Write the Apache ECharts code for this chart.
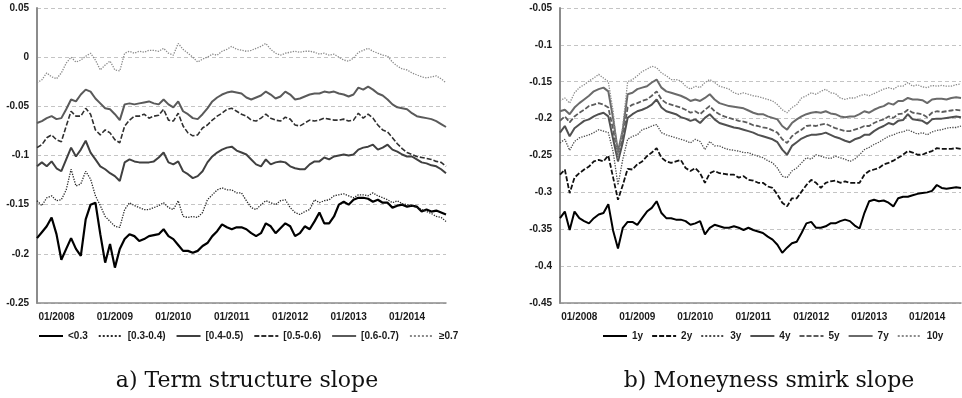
<!DOCTYPE html>
<html>
<head>
<meta charset="utf-8">
<script src="https://cdn.jsdelivr.net/npm/echarts@6/dist/echarts.min.js"></script>
<style>
  html, body { margin: 0; padding: 0; background: #fff; }
  #chart { width: 962px; height: 398px; }
</style>
</head>
<body>
<div id="chart"></div>
<script>
// monthly observations, 09/2007 .. 09/2014 (right panel stops at 08/2014)
const months = [
  '09/2007','10/2007','11/2007','12/2007',
  '01/2008','02/2008','03/2008','04/2008','05/2008','06/2008','07/2008','08/2008','09/2008','10/2008','11/2008','12/2008',
  '01/2009','02/2009','03/2009','04/2009','05/2009','06/2009','07/2009','08/2009','09/2009','10/2009','11/2009','12/2009',
  '01/2010','02/2010','03/2010','04/2010','05/2010','06/2010','07/2010','08/2010','09/2010','10/2010','11/2010','12/2010',
  '01/2011','02/2011','03/2011','04/2011','05/2011','06/2011','07/2011','08/2011','09/2011','10/2011','11/2011','12/2011',
  '01/2012','02/2012','03/2012','04/2012','05/2012','06/2012','07/2012','08/2012','09/2012','10/2012','11/2012','12/2012',
  '01/2013','02/2013','03/2013','04/2013','05/2013','06/2013','07/2013','08/2013','09/2013','10/2013','11/2013','12/2013',
  '01/2014','02/2014','03/2014','04/2014','05/2014','06/2014','07/2014','08/2014','09/2014'
];

// a) term structure slope, by moneyness bucket
const termNames = ['<0.3', '[0.3-0.4)', '[0.4-0.5)', '[0.5-0.6)', '[0.6-0.7)', '≥0.7'];
const termLt03 = [
  -0.184,-0.178,-0.172,-0.163,-0.180,-0.206,-0.195,-0.184,-0.195,-0.202,
  -0.165,-0.150,-0.148,-0.180,-0.209,-0.190,-0.214,-0.195,-0.185,-0.180,
  -0.182,-0.187,-0.185,-0.182,-0.181,-0.180,-0.175,-0.182,-0.185,-0.191,
  -0.197,-0.197,-0.199,-0.197,-0.192,-0.189,-0.182,-0.177,-0.170,-0.173,
  -0.175,-0.173,-0.173,-0.175,-0.179,-0.182,-0.179,-0.169,-0.172,-0.179,
  -0.174,-0.169,-0.172,-0.182,-0.179,-0.172,-0.175,-0.167,-0.158,-0.169,
  -0.169,-0.162,-0.150,-0.147,-0.150,-0.145,-0.143,-0.143,-0.144,-0.147,
  -0.145,-0.148,-0.148,-0.153,-0.151,-0.150,-0.152,-0.151,-0.152,-0.157,
  -0.155,-0.157,-0.156,-0.158,-0.160
];
const term0304 = [
  -0.146,-0.151,-0.143,-0.141,-0.146,-0.145,-0.135,-0.114,-0.131,-0.129,
  -0.116,-0.124,-0.141,-0.151,-0.162,-0.167,-0.172,-0.173,-0.155,-0.148,
  -0.151,-0.153,-0.155,-0.155,-0.153,-0.151,-0.148,-0.153,-0.155,-0.146,
  -0.162,-0.163,-0.162,-0.163,-0.158,-0.145,-0.140,-0.135,-0.133,-0.135,
  -0.135,-0.138,-0.138,-0.146,-0.153,-0.155,-0.150,-0.146,-0.148,-0.150,
  -0.146,-0.145,-0.153,-0.158,-0.160,-0.157,-0.155,-0.145,-0.148,-0.146,
  -0.145,-0.141,-0.140,-0.139,-0.141,-0.143,-0.140,-0.140,-0.141,-0.138,
  -0.141,-0.143,-0.145,-0.148,-0.146,-0.149,-0.150,-0.151,-0.153,-0.155,
  -0.157,-0.159,-0.162,-0.163,-0.167
];
const term0405 = [
  -0.111,-0.107,-0.111,-0.106,-0.113,-0.116,-0.104,-0.092,-0.101,-0.094,
  -0.085,-0.097,-0.104,-0.111,-0.114,-0.118,-0.121,-0.126,-0.107,-0.104,
  -0.106,-0.107,-0.107,-0.107,-0.106,-0.102,-0.097,-0.107,-0.109,-0.106,
  -0.116,-0.119,-0.123,-0.121,-0.116,-0.107,-0.101,-0.097,-0.094,-0.092,
  -0.091,-0.095,-0.097,-0.099,-0.104,-0.109,-0.111,-0.104,-0.109,-0.107,
  -0.106,-0.107,-0.111,-0.113,-0.114,-0.114,-0.109,-0.106,-0.106,-0.102,
  -0.104,-0.101,-0.100,-0.099,-0.100,-0.099,-0.094,-0.092,-0.091,-0.089,
  -0.094,-0.092,-0.089,-0.094,-0.096,-0.099,-0.101,-0.101,-0.104,-0.107,
  -0.108,-0.110,-0.111,-0.114,-0.118
];
const term0506 = [
  -0.092,-0.089,-0.082,-0.079,-0.084,-0.086,-0.070,-0.055,-0.060,-0.060,
  -0.052,-0.058,-0.074,-0.079,-0.074,-0.077,-0.084,-0.087,-0.070,-0.064,
  -0.060,-0.060,-0.058,-0.062,-0.060,-0.059,-0.053,-0.064,-0.065,-0.057,
  -0.070,-0.077,-0.080,-0.079,-0.072,-0.069,-0.064,-0.060,-0.057,-0.053,
  -0.052,-0.055,-0.058,-0.060,-0.064,-0.065,-0.062,-0.058,-0.062,-0.064,
  -0.065,-0.061,-0.063,-0.069,-0.070,-0.067,-0.064,-0.065,-0.064,-0.062,
  -0.063,-0.064,-0.064,-0.063,-0.065,-0.064,-0.057,-0.062,-0.058,-0.062,
  -0.069,-0.074,-0.076,-0.082,-0.088,-0.093,-0.097,-0.099,-0.101,-0.102,
  -0.103,-0.104,-0.106,-0.107,-0.111
];
const term0607 = [
  -0.067,-0.065,-0.062,-0.060,-0.063,-0.062,-0.053,-0.043,-0.045,-0.038,
  -0.033,-0.035,-0.042,-0.047,-0.052,-0.053,-0.058,-0.064,-0.048,-0.047,
  -0.048,-0.047,-0.046,-0.045,-0.047,-0.048,-0.043,-0.048,-0.051,-0.045,
  -0.055,-0.058,-0.062,-0.063,-0.058,-0.052,-0.045,-0.041,-0.038,-0.036,
  -0.035,-0.036,-0.037,-0.041,-0.043,-0.041,-0.039,-0.035,-0.038,-0.042,
  -0.040,-0.035,-0.038,-0.043,-0.042,-0.040,-0.038,-0.037,-0.037,-0.035,
  -0.036,-0.035,-0.037,-0.038,-0.040,-0.038,-0.031,-0.033,-0.030,-0.033,
  -0.037,-0.039,-0.043,-0.048,-0.051,-0.052,-0.053,-0.057,-0.060,-0.061,
  -0.062,-0.063,-0.065,-0.068,-0.071
];
const termGe07 = [
  -0.026,-0.023,-0.016,-0.020,-0.022,-0.016,-0.006,0.000,-0.005,-0.003,
  0.001,0.004,-0.003,-0.013,-0.008,-0.004,-0.013,-0.014,0.004,0.006,
  0.004,0.006,0.005,0.007,0.007,0.006,0.009,0.004,0.002,0.014,
  0.008,0.004,0.000,-0.005,-0.002,0.000,0.003,0.002,0.006,0.008,
  0.011,0.008,0.007,0.006,0.007,0.009,0.011,0.014,0.008,0.004,
  0.002,0.004,0.005,0.006,0.005,0.006,0.006,0.005,0.003,0.004,
  0.002,0.003,0.000,-0.003,-0.004,-0.001,0.005,0.007,0.009,0.006,
  0.004,0.002,0.001,-0.005,-0.009,-0.012,-0.013,-0.016,-0.018,-0.020,
  -0.021,-0.020,-0.019,-0.022,-0.026
];

// b) moneyness smirk slope, by maturity
const smirkNames = ['1y', '2y', '3y', '4y', '5y', '7y', '10y'];
const smirk1y = [
  -0.335,-0.326,-0.351,-0.326,-0.335,-0.339,-0.342,-0.335,-0.330,-0.328,
  -0.316,-0.352,-0.376,-0.348,-0.340,-0.340,-0.344,-0.335,-0.326,-0.321,
  -0.312,-0.328,-0.335,-0.335,-0.337,-0.337,-0.339,-0.344,-0.342,-0.339,
  -0.357,-0.348,-0.344,-0.346,-0.348,-0.348,-0.346,-0.348,-0.351,-0.348,
  -0.351,-0.353,-0.355,-0.360,-0.364,-0.371,-0.382,-0.375,-0.369,-0.367,
  -0.355,-0.342,-0.340,-0.348,-0.348,-0.346,-0.342,-0.342,-0.339,-0.337,
  -0.339,-0.345,-0.349,-0.328,-0.312,-0.310,-0.312,-0.311,-0.314,-0.319,
  -0.308,-0.306,-0.306,-0.304,-0.302,-0.301,-0.300,-0.298,-0.290,-0.294,
  -0.295,-0.294,-0.293,-0.294
];
const smirk2y = [
  -0.276,-0.269,-0.301,-0.280,-0.274,-0.269,-0.265,-0.258,-0.256,-0.258,
  -0.250,-0.280,-0.310,-0.290,-0.268,-0.269,-0.262,-0.258,-0.251,-0.246,
  -0.240,-0.253,-0.258,-0.260,-0.258,-0.256,-0.267,-0.271,-0.267,-0.274,
  -0.287,-0.274,-0.271,-0.274,-0.275,-0.276,-0.276,-0.280,-0.278,-0.283,
  -0.284,-0.287,-0.287,-0.292,-0.294,-0.303,-0.314,-0.319,-0.308,-0.308,
  -0.299,-0.290,-0.283,-0.287,-0.294,-0.287,-0.285,-0.284,-0.287,-0.285,
  -0.287,-0.287,-0.287,-0.276,-0.271,-0.269,-0.267,-0.262,-0.260,-0.257,
  -0.253,-0.249,-0.244,-0.246,-0.249,-0.249,-0.246,-0.244,-0.240,-0.241,
  -0.241,-0.241,-0.240,-0.241
];
const smirk3y = [
  -0.233,-0.228,-0.243,-0.231,-0.226,-0.224,-0.222,-0.219,-0.215,-0.217,
  -0.219,-0.245,-0.290,-0.255,-0.228,-0.224,-0.222,-0.215,-0.213,-0.210,
  -0.208,-0.219,-0.222,-0.224,-0.226,-0.228,-0.230,-0.233,-0.228,-0.231,
  -0.242,-0.231,-0.237,-0.237,-0.240,-0.242,-0.243,-0.244,-0.246,-0.246,
  -0.249,-0.251,-0.253,-0.257,-0.260,-0.267,-0.278,-0.280,-0.271,-0.267,
  -0.260,-0.253,-0.255,-0.249,-0.251,-0.253,-0.254,-0.251,-0.253,-0.255,
  -0.258,-0.255,-0.249,-0.242,-0.239,-0.235,-0.232,-0.228,-0.224,-0.222,
  -0.219,-0.218,-0.215,-0.218,-0.221,-0.219,-0.222,-0.218,-0.216,-0.215,
  -0.213,-0.212,-0.212,-0.210
];
const smirk4y = [
  -0.219,-0.210,-0.224,-0.213,-0.208,-0.203,-0.201,-0.197,-0.194,-0.192,
  -0.197,-0.228,-0.258,-0.232,-0.199,-0.194,-0.190,-0.188,-0.185,-0.181,
  -0.174,-0.185,-0.190,-0.192,-0.194,-0.198,-0.200,-0.203,-0.201,-0.206,
  -0.199,-0.194,-0.201,-0.206,-0.208,-0.210,-0.212,-0.213,-0.215,-0.217,
  -0.219,-0.222,-0.224,-0.226,-0.228,-0.232,-0.242,-0.249,-0.237,-0.232,
  -0.227,-0.224,-0.222,-0.222,-0.221,-0.219,-0.222,-0.225,-0.227,-0.230,
  -0.232,-0.228,-0.226,-0.222,-0.222,-0.217,-0.213,-0.210,-0.206,-0.208,
  -0.203,-0.202,-0.194,-0.201,-0.202,-0.203,-0.207,-0.201,-0.200,-0.200,
  -0.199,-0.198,-0.197,-0.198
];
const smirk5y = [
  -0.203,-0.197,-0.205,-0.197,-0.192,-0.188,-0.183,-0.181,-0.179,-0.181,
  -0.185,-0.215,-0.250,-0.225,-0.185,-0.181,-0.179,-0.176,-0.174,-0.169,
  -0.163,-0.174,-0.179,-0.181,-0.183,-0.185,-0.188,-0.192,-0.190,-0.194,
  -0.188,-0.183,-0.190,-0.194,-0.197,-0.199,-0.201,-0.203,-0.204,-0.206,
  -0.209,-0.210,-0.212,-0.213,-0.216,-0.219,-0.228,-0.233,-0.224,-0.219,
  -0.215,-0.210,-0.209,-0.210,-0.208,-0.207,-0.210,-0.213,-0.215,-0.217,
  -0.217,-0.215,-0.213,-0.210,-0.210,-0.206,-0.203,-0.201,-0.197,-0.199,
  -0.194,-0.193,-0.188,-0.192,-0.193,-0.194,-0.198,-0.192,-0.190,-0.191,
  -0.190,-0.189,-0.188,-0.189
];
const smirk7y = [
  -0.190,-0.188,-0.194,-0.185,-0.179,-0.174,-0.169,-0.163,-0.160,-0.158,
  -0.163,-0.200,-0.245,-0.215,-0.167,-0.165,-0.160,-0.158,-0.156,-0.151,
  -0.147,-0.158,-0.163,-0.165,-0.167,-0.169,-0.172,-0.176,-0.174,-0.176,
  -0.172,-0.167,-0.174,-0.179,-0.181,-0.183,-0.184,-0.185,-0.186,-0.189,
  -0.192,-0.194,-0.194,-0.197,-0.199,-0.201,-0.210,-0.215,-0.206,-0.201,
  -0.197,-0.194,-0.192,-0.191,-0.192,-0.190,-0.193,-0.194,-0.197,-0.198,
  -0.197,-0.197,-0.194,-0.190,-0.192,-0.188,-0.185,-0.183,-0.179,-0.181,
  -0.176,-0.176,-0.172,-0.174,-0.174,-0.175,-0.179,-0.174,-0.173,-0.173,
  -0.174,-0.172,-0.171,-0.172
];
const smirk10y = [
  -0.176,-0.172,-0.179,-0.165,-0.158,-0.154,-0.149,-0.145,-0.140,-0.145,
  -0.150,-0.190,-0.255,-0.210,-0.150,-0.147,-0.142,-0.136,-0.133,-0.129,
  -0.131,-0.138,-0.142,-0.147,-0.147,-0.149,-0.156,-0.160,-0.156,-0.158,
  -0.151,-0.147,-0.151,-0.156,-0.158,-0.160,-0.165,-0.167,-0.165,-0.167,
  -0.169,-0.170,-0.172,-0.174,-0.176,-0.181,-0.188,-0.192,-0.185,-0.181,
  -0.172,-0.169,-0.165,-0.167,-0.163,-0.160,-0.165,-0.166,-0.172,-0.174,
  -0.172,-0.172,-0.169,-0.167,-0.169,-0.166,-0.163,-0.160,-0.158,-0.160,
  -0.156,-0.156,-0.151,-0.156,-0.154,-0.157,-0.158,-0.155,-0.156,-0.155,
  -0.156,-0.156,-0.154,-0.153
];

const labelFont = { fontFamily: 'Liberation Sans, Arial, sans-serif', fontWeight: 'bold', fontSize: 10, color: '#1a1a1a' };

function line(name, data, axis, color, width, dash) {
  return {
    name: name,
    type: 'line',
    xAxisIndex: axis,
    yAxisIndex: axis,
    data: data,
    symbol: 'none',
    smooth: false,
    lineStyle: { color: color, width: width, type: dash },
    itemStyle: { color: color }
  };
}

function xAxisFor(idx, cats) {
  return {
    type: 'category',
    gridIndex: idx,
    data: cats,
    boundaryGap: false,
    axisLine: { onZero: false, lineStyle: { color: '#8c8c8c', width: 1.5 } },
    axisTick: { show: false },
    axisLabel: Object.assign({}, labelFont, {
      margin: 9,
      interval: function (i, v) { return v.slice(0, 2) === '01'; }
    }),
    splitLine: { show: false }
  };
}

function yAxisFor(idx, min, max) {
  return {
    type: 'value',
    gridIndex: idx,
    min: min,
    max: max,
    interval: 0.05,
    axisLine: { show: true, lineStyle: { color: '#8c8c8c', width: 2 } },
    axisTick: { show: false },
    axisLabel: Object.assign({}, labelFont, {
      margin: 8,
      formatter: function (v) { return String(+v.toFixed(2)); }
    }),
    splitLine: { lineStyle: { color: '#c4c4c4', width: 1, type: [4, 3] } }
  };
}

function legendFor(names, x, gap) {
  return {
    data: names,
    left: x, top: 331, width: 520,
    padding: 0,
    itemWidth: 24, itemHeight: 10, itemGap: gap,
    itemStyle: { opacity: 0 },
    textStyle: labelFont
  };
}

const chart = echarts.init(document.getElementById('chart'));

chart.setOption({
  animation: false,
  backgroundColor: '#ffffff',
  grid: [
    { left: 37, top: 8, width: 409, height: 295 },
    { left: 560, top: 8, width: 401, height: 295 }
  ],
  xAxis: [xAxisFor(0, months), xAxisFor(1, months.slice(0, 84))],
  yAxis: [yAxisFor(0, -0.25, 0.05), yAxisFor(1, -0.45, -0.05)],
  legend: [legendFor(termNames, 38, 10), legendFor(smirkNames, 602, 8)],
  graphic: [
    {
      type: 'text',
      style: { text: 'a) Term structure slope', x: 247, y: 381, textAlign: 'center', textVerticalAlign: 'middle',
               font: '22px "DejaVu Serif", serif', fill: '#111' }
    },
    {
      type: 'text',
      style: { text: 'b) Moneyness smirk slope', x: 769, y: 381, textAlign: 'center', textVerticalAlign: 'middle',
               font: '22px "DejaVu Serif", serif', fill: '#111' }
    }
  ],
  series: [
    line(termNames[0], termLt03, 0, '#000000', 2.2, 'solid'),
    line(termNames[1], term0304, 0, '#2a2a2a', 1.3, 'dotted'),
    line(termNames[2], term0405, 0, '#404040', 2, 'solid'),
    line(termNames[3], term0506, 0, '#303030', 1.6, [5, 2]),
    line(termNames[4], term0607, 0, '#5a5a5a', 2, 'solid'),
    line(termNames[5], termGe07, 0, '#8a8a8a', 1.3, 'dotted'),
    line(smirkNames[0], smirk1y, 1, '#000000', 2, 'solid'),
    line(smirkNames[1], smirk2y, 1, '#111111', 1.8, [5, 2]),
    line(smirkNames[2], smirk3y, 1, '#4a4a4a', 1.3, 'dotted'),
    line(smirkNames[3], smirk4y, 1, '#505050', 2, 'solid'),
    line(smirkNames[4], smirk5y, 1, '#5c5c5c', 1.8, [5, 2]),
    line(smirkNames[5], smirk7y, 1, '#6a6a6a', 2, 'solid'),
    line(smirkNames[6], smirk10y, 1, '#8a8a8a', 1.3, 'dotted')
  ]
});
</script>
</body>
</html>
